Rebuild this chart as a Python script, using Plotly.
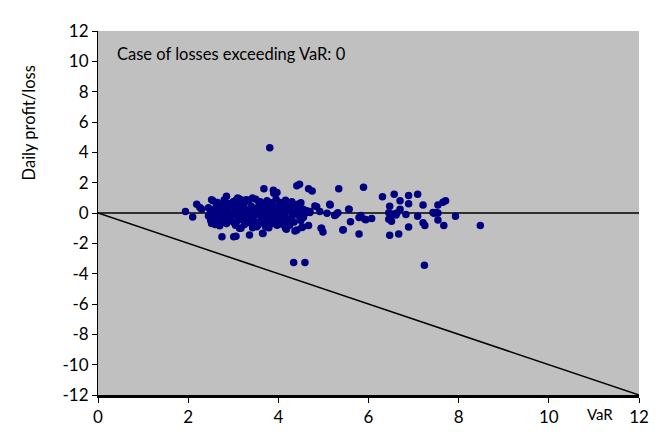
import plotly.graph_objects as go

# Scatter points: VaR (x) vs daily profit/loss (y)
var_x = [
    3.81, 3.68, 3.89, 3.97, 4.41, 4.47, 4.67, 4.75, 2.85, 2.52, 2.19, 2.30, 1.94, 2.10,
    2.52, 2.70, 2.75, 3.01, 3.17, 3.36, 3.66, 3.43, 3.52, 3.70, 3.79, 3.97, 4.18, 4.37,
    4.54, 4.67, 4.96, 4.99,
    5.34, 5.89, 6.31, 6.57, 6.89, 7.09, 6.70, 6.89, 7.21, 7.54, 7.65, 7.71, 6.47, 6.70,
    5.57, 5.15, 4.92, 5.08, 5.28, 5.32, 4.85, 5.79, 5.94, 6.07, 5.60, 4.95, 5.44, 5.79,
    6.45, 6.61, 6.83, 6.51, 6.45, 6.47, 6.67, 6.89, 7.09, 7.21, 7.25, 7.45, 7.54, 7.54,
    7.67, 7.93, 8.48, 7.24,
    2.26, 2.63, 2.74, 2.85, 2.96, 3.06, 3.10, 3.28, 3.43, 3.57, 3.72, 3.86, 4.01, 4.16,
    4.23, 4.30, 4.43, 3.14, 3.65, 3.72, 4.16, 3.06, 3.90,
    4.50, 4.81, 5.14, 5.56, 4.63, 4.70, 4.45, 4.56, 5.25, 4.52, 4.41, 5.43, 5.83, 5.92,
    6.56, 6.63, 6.48, 7.43, 7.50,
    2.55, 2.65, 2.80, 2.90, 3.00, 3.15, 3.25, 3.35, 3.50, 3.60, 3.75, 3.85, 3.95, 4.05,
    4.15, 4.30,
    2.45, 2.60, 2.70, 2.80, 2.90, 3.05, 3.15, 3.25, 3.40, 3.50, 3.60, 3.70, 3.80, 3.90,
    4.00, 4.10, 4.20, 4.35, 4.45, 4.55,
    2.50, 2.60, 2.75, 2.85, 2.95, 3.05, 3.10, 3.20, 3.30, 3.45, 3.55, 3.65, 3.75, 3.85,
    3.95, 4.05, 4.15, 4.25, 4.40, 4.60, 4.70,
    2.45, 2.55, 2.65, 2.75, 2.85, 2.95, 3.05, 3.15, 3.25, 3.35, 3.45, 3.55, 3.65, 3.75,
    3.85, 3.95, 4.05, 4.15, 4.30, 4.45, 4.55,
    2.50, 2.60, 2.75, 2.90, 3.00, 3.10, 3.20, 3.30, 3.45, 3.60, 3.70, 3.80, 3.90, 4.05,
    4.20, 4.35, 4.50,
    2.60, 2.85, 3.05, 3.25, 3.40, 3.55, 3.85, 4.10, 4.25,
    4.34, 4.59,
]
pnl_y = [
    4.30, 1.60, 1.50, 1.35, 1.79, 1.90, 1.60, 1.45, 1.10, 0.88, 0.57, 0.25, 0.10, -0.27,
    -0.70, -0.84, -1.56, -1.56, -1.00, -1.45, -1.35, -0.97, -0.90, -0.74, -0.97, -0.80, -1.07, -1.18,
    -0.93, -0.82, -1.00, -1.26,
    1.60, 1.70, 1.07, 1.24, 1.16, 1.24, 0.80, 0.61, 0.52, 0.52, 0.71, 0.80, 0.44, 0.25,
    0.25, 0.52, 0.10, -0.02, -0.10, 0.02, 0.42, -0.30, -0.44, -0.36, -0.57, -1.00, -1.10, -1.39,
    0.02, -0.13, -0.10, -0.55, -0.42, -1.47, -1.39, -0.93, -0.21, -0.65, -0.82, -0.02, 0.00, -0.46,
    -0.82, -0.21, -0.82, -3.45,
    0.36, 0.57, 0.46, 0.68, 0.46, 0.84, 0.99, 0.88, 0.99, 0.68, 0.57, 0.68, 0.46, 0.84,
    0.68, 0.46, 0.57, -1.01, -1.33, -0.90, -1.01, -1.54, 1.30,
    0.68, 0.46, 0.57, 0.25, 0.15, 0.04, -0.17, -0.27, -0.17, -0.95, -1.12, -1.12, -0.17, -0.42,
    -0.06, 0.00, -0.38, 0.04, 0.04,
    0.80, 0.70, 0.85, 0.60, 0.75, 0.90, 0.70, 0.85, 0.90, 0.75, 0.80, 0.60, 0.90, 0.70,
    0.55, 0.75,
    0.35, 0.30, 0.45, 0.30, 0.50, 0.35, 0.50, 0.30, 0.45, 0.30, 0.50, 0.35, 0.45, 0.30,
    0.40, 0.30, 0.45, 0.30, 0.40, 0.25,
    0.10, 0.15, 0.05, 0.15, 0.00, 0.10, 0.20, 0.05, 0.15, 0.10, 0.00, 0.15, 0.05, 0.15,
    0.00, 0.10, 0.05, 0.15, 0.10, 0.00, 0.10,
    -0.20, -0.15, -0.25, -0.10, -0.30, -0.20, -0.10, -0.25, -0.15, -0.30, -0.20, -0.10, -0.25, -0.15,
    -0.30, -0.20, -0.10, -0.30, -0.20, -0.10, -0.30,
    -0.50, -0.45, -0.55, -0.45, -0.60, -0.50, -0.40, -0.60, -0.50, -0.55, -0.45, -0.60, -0.50, -0.55,
    -0.45, -0.60, -0.50,
    -0.75, -0.70, -0.80, -0.75, -0.70, -0.80, -0.70, -0.75, -0.80,
    -3.27, -3.27,
]

# Reference lines
line_x = [0, 12]
zero_y = [0, 0]
var_line_y = [0, -12]

x_ticks = [0, 2, 4, 6, 8, 10, 12]
y_ticks = [-12, -10, -8, -6, -4, -2, 0, 2, 4, 6, 8, 10, 12]
y_tick_labels = ["-12", "-10", "-8", "-6", "-4", "-2", "0", "2", "4", "6", "8", "10", "12"]

font_family = "Lato, 'Open Sans', sans-serif"

fig = go.Figure()
fig.add_trace(go.Scatter(x=line_x, y=zero_y, mode="lines",
                         line=dict(color="black", width=1.5), hoverinfo="skip"))
fig.add_trace(go.Scatter(x=line_x, y=var_line_y, mode="lines",
                         line=dict(color="black", width=1.5), hoverinfo="skip"))
fig.add_trace(go.Scatter(x=var_x, y=pnl_y, mode="markers",
                         marker=dict(color="#000080", size=7.5, line=dict(width=0))))

# The page body adds an 8px margin, so the figure is sized to fit the window.
fig.update_layout(
    width=653, height=431,
    margin=dict(l=90, r=13, t=16, b=35),
    paper_bgcolor="white",
    plot_bgcolor="#C0C0C0",
    showlegend=False,
    font=dict(family=font_family, size=17, color="black"),
    xaxis=dict(range=[0, 12], tickvals=x_ticks, ticks="outside", ticklen=5,
               tickcolor="black", showgrid=False, zeroline=False,
               showline=True, linecolor="black", linewidth=2.5,
               tickfont=dict(size=17)),
    yaxis=dict(range=[-12, 12], tickvals=y_ticks, ticktext=y_tick_labels,
               ticks="outside", ticklen=5,
               tickcolor="black", showgrid=False, zeroline=False,
               showline=True, linecolor="black", linewidth=1,
               tickfont=dict(size=17)),
    annotations=[
        dict(text="Case of losses exceeding VaR: 0", xref="paper", yref="paper",
             x=0.031, y=0.937, xanchor="left", yanchor="middle", showarrow=False,
             font=dict(size=16.5)),
        dict(text="VaR", xref="paper", yref="paper", x=0.927, y=-0.053,
             xanchor="center", yanchor="middle", showarrow=False, font=dict(size=15)),
        dict(text="Daily profit/loss", xref="paper", yref="paper", x=-0.127, y=0.747,
             xanchor="center", yanchor="middle", showarrow=False, textangle=-90,
             font=dict(size=16.5)),
    ],
)

fig.write_html("out.html")
